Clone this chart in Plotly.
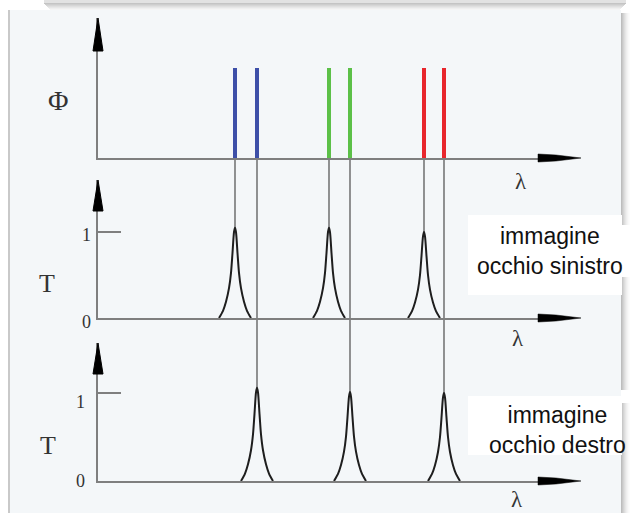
import plotly.graph_objects as go

W, H = 631, 513

# Wavelengths of the six projector primaries (diagram units along λ)
lambda_left = [235, 329, 424]     # blue, green, red passed by the left-eye filter
lambda_right = [257, 350, 444]    # blue, green, red passed by the right-eye filter
primary_colors = ["#3d4fa8", "#5cc048", "#e8262c"]
phi_left = [1.0, 1.0, 1.0]
phi_right = [1.0, 1.0, 1.0]

# Peak transmission of each filter band
peak_left = [1.05, 1.05, 1.0]
peak_right = [1.06, 1.01, 1.0]

# Shape of one filter band: offset from the band centre and relative level
profile_offset = [-16, -12, -9, -6, -4, -2.5, -1, 0, 1, 2.5, 4, 6, 9, 12, 16]
profile_level = [0.0, 0.08, 0.18, 0.33, 0.5, 0.72, 0.95, 1.0, 0.95, 0.72, 0.5, 0.33, 0.18, 0.08, 0.0]

tick_vals = [0, 1]
tick_text = ["0", "1"]
label_left = "immagine<br>occhio sinistro"
label_right = "immagine<br>occhio destro"

AXIS_GRAY = "#7f7f7f"
SERIF = "Liberation Serif, DejaVu Serif, serif"
SANS = "Liberation Sans, Arial, sans-serif"


def fx(p):
    return p / W


def fy(p):
    return 1 - p / H


# x axis spans from the vertical axes to the arrow on the right
X_RANGE = [98, 560]
X_DOMAIN = [fx(X_RANGE[0]), fx(X_RANGE[1])]

# panels: (baseline row, pixels per unit, top of the vertical arrow)
panels = {
    "y": (158, 90, 18),
    "y2": (318, 86, 180),
    "y3": (481, 88, 343),
}
y_domain = {k: [fy(b), fy(t)] for k, (b, u, t) in panels.items()}
y_range = {k: [0, (b - t) / u] for k, (b, u, t) in panels.items()}


def to_paper(axis, v):
    d0, d1 = y_domain[axis]
    r0, r1 = y_range[axis]
    return d0 + (v - r0) / (r1 - r0) * (d1 - d0)


fig = go.Figure()

# Φ: the six narrow emission lines
bar_x, bar_y, bar_c = [], [], []
for xl, xr, yl, yr, c in zip(lambda_left, lambda_right, phi_left, phi_right, primary_colors):
    bar_x += [xl, xr]
    bar_y += [yl, yr]
    bar_c += [c, c]
fig.add_trace(go.Bar(x=bar_x, y=bar_y, width=4, marker=dict(color=bar_c, line_width=0),
                     xaxis="x", yaxis="y", showlegend=False, hoverinfo="skip"))


def band_trace(centres, peaks, xa, ya):
    xs, ys = [], []
    for c, p in zip(centres, peaks):
        xs += [c + o for o in profile_offset] + [None]
        ys += [p * l for l in profile_level] + [None]
    return go.Scatter(x=xs, y=ys, mode="lines", xaxis=xa, yaxis=ya,
                      line=dict(color="#1e1e1e", width=2, shape="spline", smoothing=0.7),
                      showlegend=False, hoverinfo="skip")


fig.add_trace(band_trace(lambda_left, peak_left, "x2", "y2"))
fig.add_trace(band_trace(lambda_right, peak_right, "x3", "y3"))

shapes = []

# page and panel background
shapes.append(dict(type="rect", xref="paper", yref="paper", layer="below",
                   x0=fx(8), x1=fx(621), y0=fy(513), y1=fy(10),
                   fillcolor="#f4f7f9", line_width=0))
shapes.append(dict(type="line", xref="paper", yref="paper", layer="below",
                   x0=fx(9), x1=fx(9), y0=fy(513), y1=fy(10),
                   line=dict(color="#c9c9c9", width=2)))
# shadow strip along the top
for i, col in enumerate(["#c4c4c4", "#cdcdcd", "#d6d6d6", "#dfdfdf", "#e7e7e7", "#efefef", "#f5f5f5"]):
    shapes.append(dict(type="rect", xref="paper", yref="paper", layer="below",
                       x0=fx(44 + i), x1=fx(626 - i), y0=fy(3 + i + 1), y1=fy(3 + i),
                       fillcolor=col, line_width=0))
shapes.append(dict(type="rect", xref="paper", yref="paper", layer="below",
                   x0=fx(44), x1=fx(626), y0=fy(3), y1=fy(0),
                   fillcolor="#e2e2e2", line_width=0))
# shadow strip along the right edge
for y0, y1 in [(13, 225), (277, 390), (403, 513)]:
    for i, col in enumerate(["#bdbdbd", "#c8c8c8", "#d3d3d3", "#dddddd", "#e6e6e6", "#eeeeee", "#f4f4f4", "#f9f9f9", "#fcfcfc"]):
        shapes.append(dict(type="rect", xref="paper", yref="paper", layer="below",
                           x0=fx(621 + i), x1=fx(622 + i), y0=fy(y1), y1=fy(y0),
                           fillcolor=col, line_width=0))

# white boxes behind the eye labels
shapes.append(dict(type="rect", xref="paper", yref="paper", layer="below",
                   x0=fx(468), x1=fx(622), y0=fy(295), y1=fy(215), fillcolor="white", line_width=0))
shapes.append(dict(type="rect", xref="paper", yref="paper", layer="below",
                   x0=fx(622), x1=fx(631), y0=fy(277), y1=fy(225), fillcolor="white", line_width=0))
shapes.append(dict(type="rect", xref="paper", yref="paper", layer="below",
                   x0=fx(468), x1=fx(622), y0=fy(455), y1=fy(396), fillcolor="white", line_width=0))
shapes.append(dict(type="rect", xref="paper", yref="paper", layer="below",
                   x0=fx(622), x1=fx(631), y0=fy(403), y1=fy(390), fillcolor="white", line_width=0))

# guide lines from each emission line down to the filter band that passes it
for c, p in zip(lambda_left, peak_left):
    shapes.append(dict(type="line", xref="x", yref="paper", layer="below",
                       x0=c, x1=c, y0=to_paper("y", 0), y1=to_paper("y2", p),
                       line=dict(color="#5a5a5a", width=1.3)))
for c, p in zip(lambda_right, peak_right):
    shapes.append(dict(type="line", xref="x", yref="paper", layer="below",
                       x0=c, x1=c, y0=to_paper("y", 0), y1=to_paper("y3", p),
                       line=dict(color="#5a5a5a", width=1.3)))

# arrowheads on every axis
for ax, (base, unit, tip) in panels.items():
    ax_x = X_RANGE[0]
    head = 33 if ax == "y" else 31
    shapes.append(dict(type="path", xref="paper", yref="paper",
                       path=f"M {fx(ax_x)},{fy(tip)} L {fx(ax_x + 5)},{fy(tip + head)} "
                            f"L {fx(ax_x - 5)},{fy(tip + head)} Z",
                       fillcolor="black", line=dict(color="black", width=1)))
    yb = base
    shapes.append(dict(type="path", xref="paper", yref="paper",
                       path=f"M {fx(538)},{fy(yb - 4)} L {fx(556)},{fy(yb - 3)} L {fx(581)},{fy(yb)} "
                            f"L {fx(556)},{fy(yb + 3)} L {fx(538)},{fy(yb + 4)} Z",
                       fillcolor="black", line=dict(color="black", width=0.5)))

annotations = []


def text(x, y, s, size, font=SERIF, color="#333333"):
    annotations.append(dict(xref="paper", yref="paper", x=fx(x), y=fy(y), text=s,
                            showarrow=False, xanchor="center", yanchor="middle",
                            font=dict(family=font, size=size, color=color)))


text(58, 100, "Φ", 28)
text(47, 283, "T", 26)
text(48, 445, "T", 26)
text(521, 181, "λ", 23)
text(518, 338, "λ", 23)
text(517, 499, "λ", 23)
# tick labels on the transmission axes
text(86, 235, tick_text[1], 18)
text(86, 322, tick_text[0], 18)
text(80, 402, tick_text[1], 18)
text(80, 481, tick_text[0], 18)
text(550, 251, label_left, 23, SANS, "#111111")
text(557, 430, label_right, 23, SANS, "#111111")

xaxis_common = dict(range=X_RANGE, domain=X_DOMAIN, showline=True, linecolor=AXIS_GRAY,
                    linewidth=2, showgrid=False, zeroline=False, showticklabels=False,
                    ticks="", fixedrange=True)
yaxis_common = dict(showline=True, linecolor=AXIS_GRAY, linewidth=2, showgrid=False,
                    zeroline=False, showticklabels=False, fixedrange=True)

fig.update_layout(
    width=W, height=H,
    margin=dict(l=0, r=0, t=0, b=0),
    paper_bgcolor="white", plot_bgcolor="rgba(0,0,0,0)",
    showlegend=False, bargap=0,
    xaxis=dict(**xaxis_common, anchor="y"),
    xaxis2=dict(**xaxis_common, anchor="y2", matches="x"),
    xaxis3=dict(**xaxis_common, anchor="y3", matches="x"),
    yaxis=dict(**yaxis_common, domain=y_domain["y"], range=y_range["y"], anchor="x", ticks=""),
    yaxis2=dict(**yaxis_common, domain=y_domain["y2"], range=y_range["y2"], anchor="x2",
                ticks="inside", tickvals=[tick_vals[1]], ticklen=23, tickwidth=2, tickcolor=AXIS_GRAY),
    yaxis3=dict(**yaxis_common, domain=y_domain["y3"], range=y_range["y3"], anchor="x3",
                ticks="inside", tickvals=[tick_vals[1]], ticklen=23, tickwidth=2, tickcolor=AXIS_GRAY),
    shapes=shapes,
    annotations=annotations,
)

fig.write_html("out.html")
